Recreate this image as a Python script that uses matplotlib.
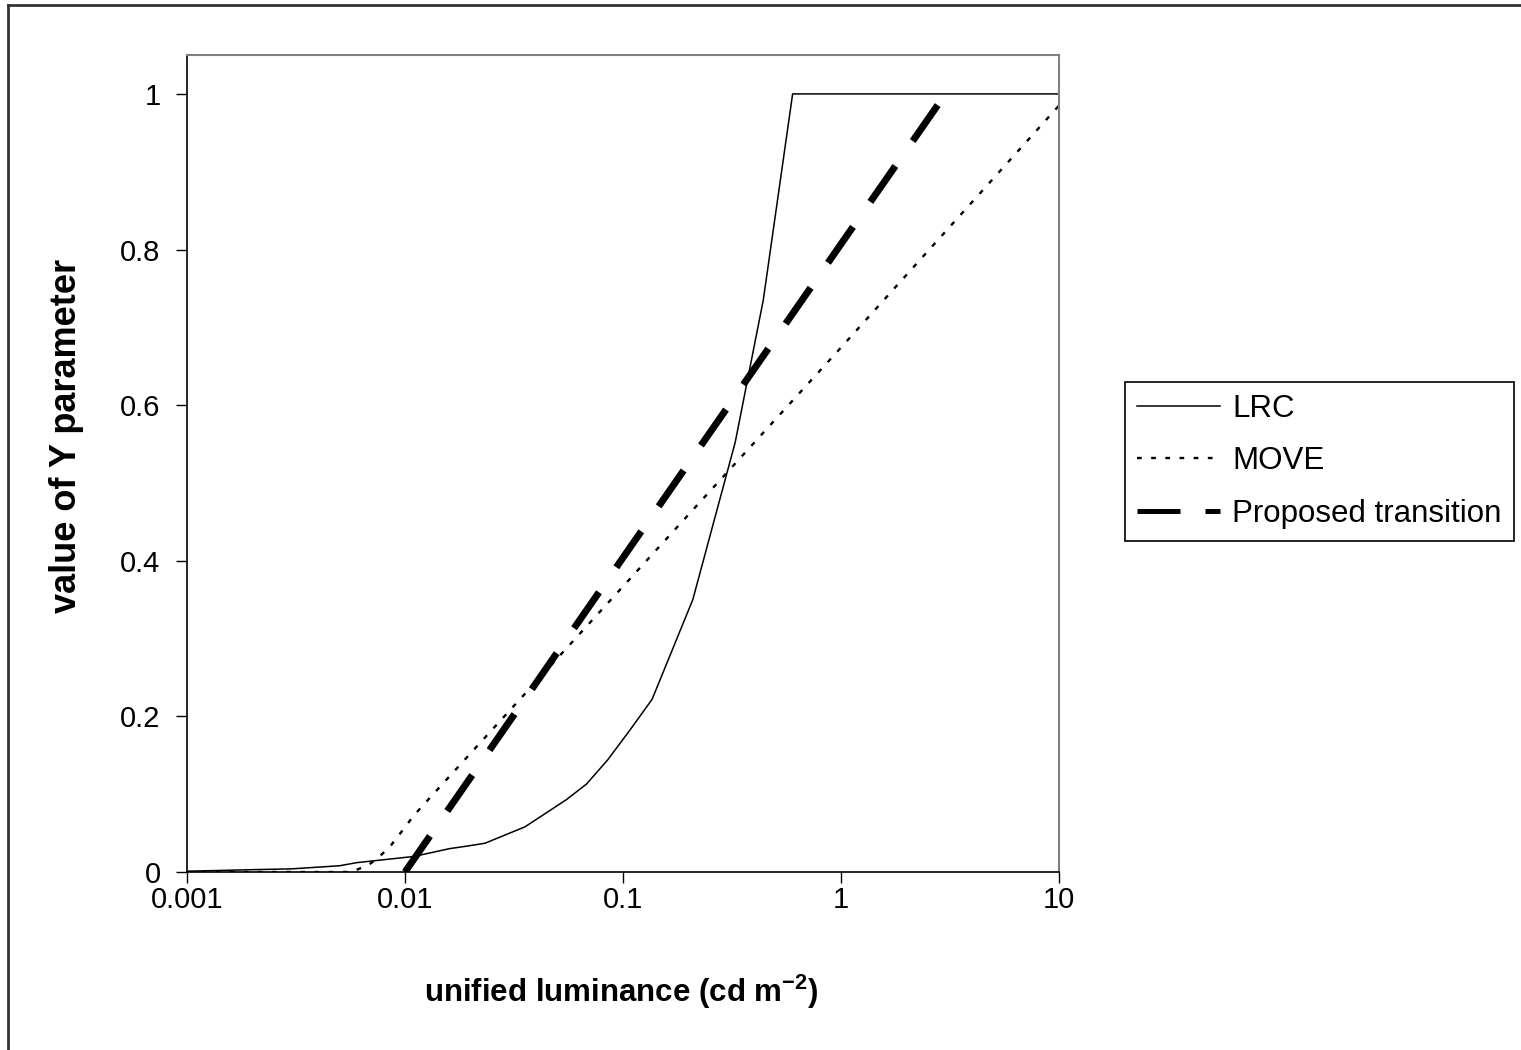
import numpy as np
import matplotlib
matplotlib.use("Agg")
from matplotlib import pyplot as plt
from matplotlib.lines import Line2D

plt.rcParams['font.family'] = ['Liberation Sans', 'DejaVu Sans']
plt.rcParams['mathtext.fontset'] = 'custom'
plt.rcParams['mathtext.rm'] = 'Liberation Sans'
plt.rcParams['mathtext.bf'] = 'Liberation Sans:bold'

# data
lrc_x = [0.001, 0.002, 0.003, 0.005, 0.006, 0.011, 0.016, 0.02, 0.0233, 0.0355,
         0.055, 0.068, 0.085, 0.108, 0.136, 0.209, 0.327, 0.44, 0.6, 10]
lrc_y = [0.001, 0.003, 0.004, 0.008, 0.012, 0.02, 0.03, 0.034, 0.037, 0.058,
         0.093, 0.113, 0.144, 0.183, 0.222, 0.35, 0.552, 0.735, 1.0, 1.0]

move_x = [0.001, 0.0055, 0.0059, 0.0068, 0.0075, 0.0085, 0.0099, 0.011, 0.1, 1, 10]
move_y = [0, 0, 0.002, 0.009, 0.018, 0.032, 0.056, 0.073, 0.367, 0.674, 0.985]

prop_x = [0.01, 0.1, 1, 2.8]
prop_y = [0, 0.404, 0.807, 0.987]

labels = ['LRC', 'MOVE', 'Proposed transition']

x_ticks = [0.001, 0.01, 0.1, 1, 10]
x_ticklabels = ["0.001", "0.01", "0.1", "1", "10"]
y_ticks = [0, 0.2, 0.4, 0.6, 0.8, 1]
y_ticklabels = ["0", "0.2", "0.4", "0.6", "0.8", "1"]

W, H = 1521, 1050
fig = plt.figure(figsize=(W / 100, H / 100), dpi=100)
ax = fig.add_axes([187 / W, 1 - 872 / H, (1059 - 187) / W, (872 - 55) / H])

ax.plot(lrc_x, lrc_y, color='black', lw=1.1)
ax.plot(move_x, move_y, color='black', lw=1.7, linestyle=(0, (2, 4)))
ax.plot(prop_x, prop_y, color='black', lw=5, linestyle=(0, (6.3, 4.38)),
        solid_capstyle='butt', dash_capstyle='butt')

ax.set_xscale('log')
ax.set_xlim(0.001, 10)
ax.set_ylim(0, 1.05)
ax.set_xticks(x_ticks)
ax.set_xticklabels(x_ticklabels)
ax.set_yticks(y_ticks)
ax.set_yticklabels(y_ticklabels)
ax.minorticks_off()
ax.tick_params(axis='both', direction='out', length=8, width=1, labelsize=21)
ax.tick_params(axis='y', pad=11)
ax.tick_params(axis='x', pad=2)

for s in ['top', 'right']:
    ax.spines[s].set_color('#808080')
    ax.spines[s].set_linewidth(1.5)
for s in ['left', 'bottom']:
    ax.spines[s].set_color('black')
    ax.spines[s].set_linewidth(1.2)

fig.text(621 / W, 1 - 992 / H, r'unified luminance (cd m$^{\mathbf{-2}}$)',
         fontsize=22.5, fontweight='bold', ha='center', va='center')
fig.text(67 / W, 1 - 436 / H, 'value of Y parameter', fontsize=26,
         fontweight='bold', rotation=90, ha='center', va='center')

# legend handles (legend dashes are drawn a bit thinner, as in the reference)
handles = [
    Line2D([], [], color='black', lw=1.1),
    Line2D([], [], color='black', lw=1.7, linestyle=(0, (2, 4))),
    Line2D([], [], color='black', lw=3.6, linestyle=(0, (8.6, 5.0)),
           dash_capstyle='butt'),
]
leg = ax.legend(handles, labels, loc='upper left',
                bbox_to_anchor=(1125 / W, 1 - 382 / H),
                bbox_transform=fig.transFigure, borderaxespad=0, fontsize=22.5,
                handlelength=2.66, handletextpad=0.4, labelspacing=0.72,
                borderpad=0.38, fancybox=False, framealpha=1)
leg.get_frame().set_edgecolor('black')
leg.get_frame().set_linewidth(1.2)

# outer chart frame (only top and left edges fall inside the picture)
fig.add_artist(Line2D([8 / W, 1], [1 - 5 / H, 1 - 5 / H], color='#333333', lw=2,
                      transform=fig.transFigure))
fig.add_artist(Line2D([8 / W, 8 / W], [0, 1 - 5 / H], color='#333333', lw=2,
                      transform=fig.transFigure))

fig.savefig('out.png', dpi=100)
